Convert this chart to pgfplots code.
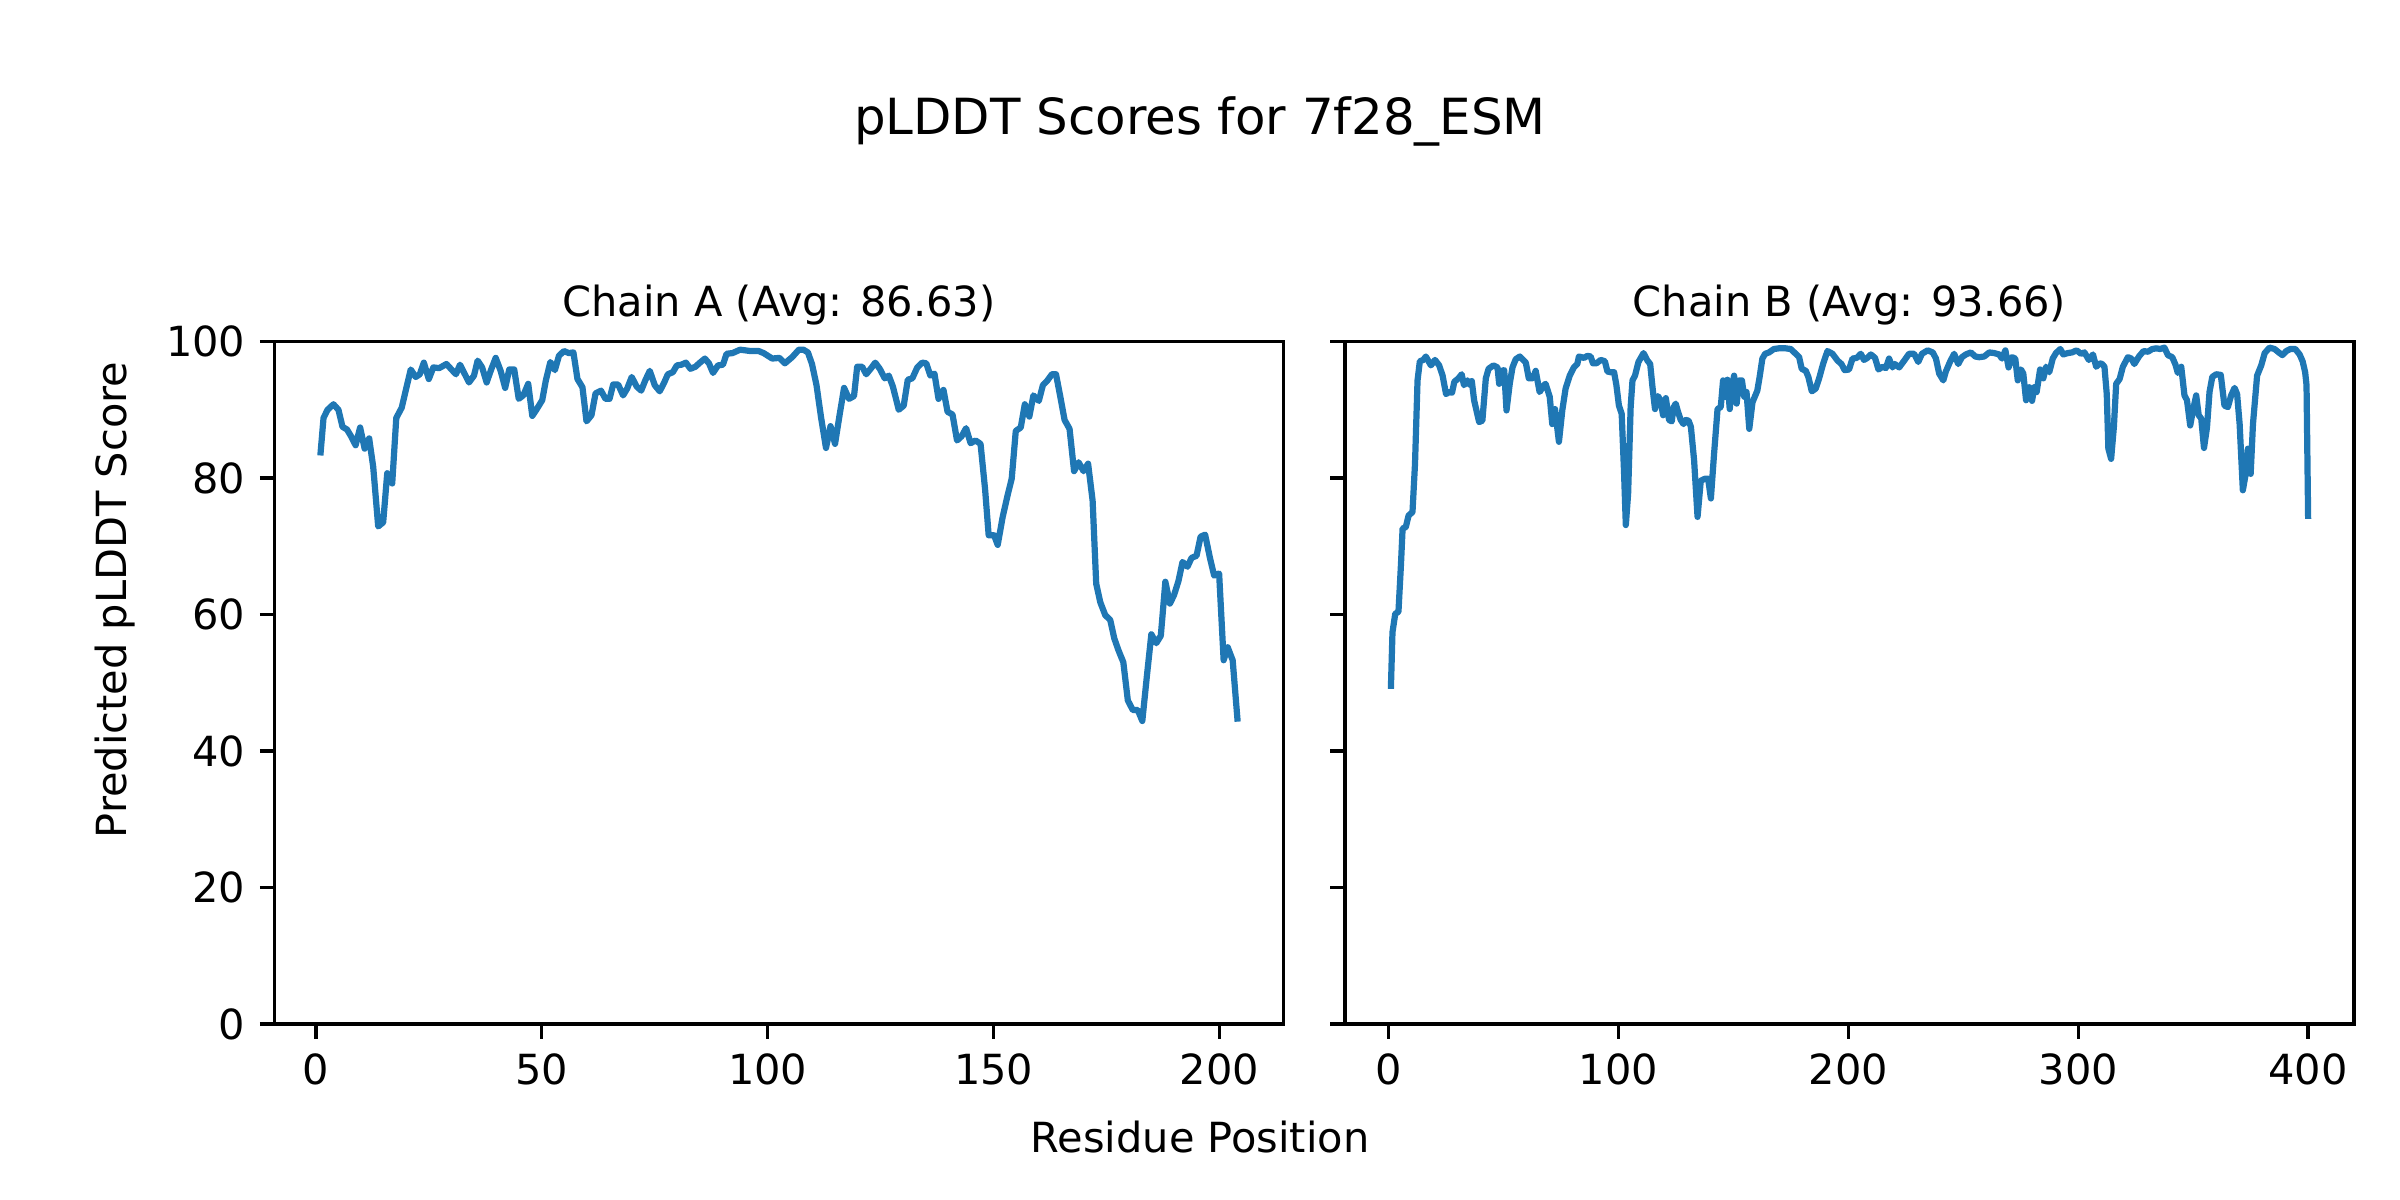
\documentclass[border=0pt]{standalone}
\usepackage{fontspec}
\setmainfont{DejaVu Sans}
\usepackage{pgfplots}
\pgfplotsset{compat=1.18}
\definecolor{mplblue}{RGB}{31,119,180}
\pgfplotsset{
  myaxis/.style={
    scale only axis,
    width=242.16bp, height=163.8bp,
    anchor=south west,
    ymin=0, ymax=100,
    ytick={0,20,40,60,80,100},
    tick align=outside,
    tick pos=left,
    major tick length=3.5pt,
    every tick/.style={black, line width=0.8pt},
    axis line style={black, line width=0.8pt},
    tick label style={font=\fontsize{10}{12}\selectfont},
    /pgf/number format/assume math mode=true,
    every axis title/.style={font=\fontsize{10}{12}\selectfont, at={(0.5,1)}, anchor=base, yshift=6pt},
  },
  myline/.style={color=mplblue, line width=1.5pt, line join=round, mark=none},
}
\begin{document}
\begin{tikzpicture}
\path[use as bounding box] (0,0) rectangle (576bp,288bp);
\node[anchor=base, font=\fontsize{12}{14}\selectfont] at (288bp,255.6bp) {pLDDT Scores for 7f28\_ESM};
\node[anchor=base, font=\fontsize{10}{12}\selectfont] at (288bp,11.5bp) {Residue Position};
\node[anchor=base, rotate=90, font=\fontsize{10}{12}\selectfont] at (30.4bp,144bp) {Predicted pLDDT Score};

\begin{axis}[myaxis, at={(65.88bp,42.24bp)},
  xmin=-9.15, xmax=214.15, xtick={0,50,100,150,200},
  title={Chain A (Avg: 86.63)}]
\addplot[myline] coordinates {
(1,83.3) (1.7,88.8) (2.6,90.0) (3.9,90.8) (5.0,90.0) (5.9,87.5) (6.9,87.1) (7.8,86.1) (8.8,84.8) (9.8,87.4)
(10.8,84.3) (11.8,85.8) (12.7,81.6) (13.8,72.9) (14.9,73.5) (15.8,80.7) (16.9,79.2) (17.8,88.8) (19.0,90.3) (20.1,93.4)
(21.0,95.9) (22.1,94.8) (23.0,95.2) (23.9,96.9) (25.0,94.5) (26.0,96.2) (27.3,96.1) (28.9,96.7) (31.0,95.2) (31.9,96.6)
(33.9,94.0) (35.0,95.0) (35.8,97.2) (36.8,96.2) (37.8,94.0) (38.8,95.9) (39.8,97.6) (40.9,95.7) (41.9,93.2) (42.8,95.9)
(43.9,95.9) (44.9,91.6) (45.9,92.1) (47.0,93.8) (47.9,89.1) (48.9,90.1) (50.1,91.4) (50.9,94.3) (51.9,97.0) (52.9,95.8)
(53.8,97.9) (54.9,98.6) (56.0,98.3) (57.0,98.4) (57.9,94.5) (59.0,93.3) (59.9,88.3) (61.0,89.2) (61.9,92.4) (63.1,92.8)
(64.1,91.6) (65.0,91.6) (65.8,93.7) (66.9,93.7) (68.0,92.1) (68.9,93.1) (69.9,94.8) (71.0,93.4) (72.0,92.8) (72.9,94.3)
(73.9,95.7) (75.0,93.6) (76.1,92.7) (77.1,94.0) (77.9,95.2) (79.0,95.5) (79.9,96.5) (80.9,96.6) (81.9,96.9) (82.9,96.0)
(84.0,96.3) (85.0,96.9) (86.1,97.5) (87.0,96.8) (87.9,95.4) (89.0,96.5) (90.1,96.6) (90.9,98.2) (92.2,98.3) (93.9,98.8)
(96.2,98.6) (98.0,98.6) (99.1,98.3) (101.0,97.5) (102.6,97.6) (103.8,96.8) (105.4,97.7) (106.9,98.8) (107.9,98.8) (108.9,98.4)
(109.8,96.7) (110.8,93.6) (111.8,88.9) (112.9,84.4) (113.9,87.6) (114.9,85.0) (115.9,89.2) (116.9,93.2) (118.0,91.6) (119.1,92.0)
(119.8,96.3) (120.9,96.3) (121.8,95.2) (122.9,96.1) (123.8,96.9) (124.8,96.0) (125.9,94.6) (126.8,95.0) (127.7,93.4) (129.0,90.0)
(130.1,90.6) (131.0,94.4) (132.0,94.6) (133.1,96.2) (134.2,96.9) (135.1,96.8) (136.0,95.0) (136.9,95.3) (137.8,91.6) (138.9,92.9)
(139.8,89.7) (140.9,89.3) (141.9,85.5) (142.9,86.1) (143.9,87.3) (144.9,85.1) (146.0,85.5) (147.1,85.0) (148.1,78.4) (148.9,71.6)
(150.1,71.6) (150.9,70.2) (152.0,74.3) (153.1,77.5) (154.0,79.9) (154.9,86.9) (156.0,87.4) (156.9,90.8) (157.9,89.0) (158.8,92.1)
(160.0,91.3) (160.9,93.6) (161.8,94.2) (162.9,95.2) (163.8,95.2) (164.7,92.1) (165.7,88.5) (166.8,87.2) (167.8,81.0) (168.8,82.3)
(169.9,81.0) (170.9,82.1) (171.9,76.7) (172.7,64.5) (173.6,61.8) (174.7,59.9) (175.8,59.2) (176.7,56.5) (177.6,54.8) (178.7,53.0)
(179.7,47.4) (180.8,46.0) (181.9,46.0) (182.9,44.4) (183.9,50.9) (184.9,57.1) (186.0,55.8) (187.0,56.9) (188.0,64.8) (189.0,61.6)
(189.9,62.8) (190.9,64.9) (191.8,67.7) (192.9,67.0) (193.8,68.3) (194.9,68.6) (195.8,71.4) (196.8,71.7) (197.9,68.2) (198.8,65.7)
(199.9,66.0) (200.9,53.3) (201.8,55.2) (202.9,53.3) (204.0,44.3)
};
\end{axis}

\begin{axis}[myaxis, at={(322.8bp,42.24bp)},
  xmin=-18.95, xmax=419.95, xtick={0,100,200,300,400},
  yticklabels={},
  title={Chain B (Avg: 93.66)}]
\addplot[myline] coordinates {
(1.0,49.1) (1.7,57.4) (2.9,60.1) (4.3,60.4) (5.4,67.4) (6.1,72.6) (7.5,72.8) (8.7,74.5) (10.4,75.0) (11.5,82.1)
(12.6,94.3) (13.6,97.1) (15.1,97.3) (16.2,97.8) (18.4,96.5) (20.2,97.3) (22.0,96.5) (23.5,95.0) (25.0,92.3) (26.4,92.6)
(27.6,92.5) (28.6,94.1) (30.4,94.6) (31.8,95.2) (32.8,93.6) (34.3,94.3) (35.5,93.6) (36.2,94.2) (37.2,91.4) (38.7,89.2)
(39.4,88.2) (40.8,88.4) (42.3,94.6) (43.5,96.0) (45.6,96.5) (47.4,96.2) (48.1,93.8) (49.3,95.7) (50.3,95.8) (51.3,89.9)
(52.7,93.8) (53.9,96.2) (55.3,97.4) (57.1,97.8) (59.7,96.9) (61.0,94.6) (62.7,94.6) (64.0,95.7) (65.7,92.6) (67.6,93.6)
(68.3,93.8) (70.1,91.9) (71.2,87.9) (72.4,90.1) (74.1,85.3) (75.6,90.0) (77.0,93.1) (78.8,95.0) (80.6,96.2) (82.1,96.7)
(82.8,97.8) (85.0,97.6) (86.5,97.9) (87.9,97.8) (88.9,96.8) (90.4,96.8) (92.3,97.3) (94.1,97.1) (95.2,95.6) (96.6,95.5)
(98.1,95.5) (99.1,93.6) (100.2,90.6) (101.4,89.4) (102.4,81.1) (103.2,73.1) (104.2,77.7) (105.3,90.4) (106.1,94.3) (107.2,95.0)
(108.7,97.0) (110.9,98.3) (112.6,97.2) (113.8,96.7) (114.8,93.3) (115.9,90.1) (117.2,92.0) (118.4,91.3) (119.4,89.2) (120.6,91.7)
(122.0,88.5) (123.2,88.3) (123.9,90.3) (124.9,90.9) (125.9,89.7) (127.1,88.5) (128.3,87.9) (129.3,88.5) (130.5,88.4) (131.5,87.5)
(132.9,82.6) (134.4,74.3) (135.8,79.6) (137.7,79.9) (139.0,79.9) (140.2,77.0) (141.6,83.6) (143.1,90.1) (144.5,90.4) (145.5,94.3)
(146.4,91.9) (147.4,94.4) (148.4,90.1) (149.3,93.3) (150.3,95.0) (151.4,90.9) (152.5,94.3) (153.7,94.3) (154.7,91.9) (155.7,92.6)
(156.9,87.2) (158.3,91.1) (160.4,92.8) (161.4,94.8) (162.6,97.5) (163.8,98.2) (165.5,98.4) (167.6,98.9) (169.8,99.0) (172.7,99.0)
(174.9,98.9) (177.1,98.2) (178.6,97.7) (179.7,96.0) (181.5,95.7) (182.6,94.8) (184.1,92.7) (185.8,93.1) (187.2,94.5) (189.0,96.7)
(190.9,98.6) (193.1,98.2) (195.3,97.2) (197.0,96.7) (198.4,95.8) (200.3,95.9) (201.8,97.5) (203.7,97.6) (205.4,98.2) (206.8,97.3)
(208.3,97.6) (209.8,98.1) (211.6,97.6) (213.1,95.9) (214.9,96.3) (216.3,96.1) (217.7,97.5) (219.2,96.2) (220.2,96.7) (222.1,96.2)
(224.3,97.2) (226.4,98.2) (228.6,98.2) (230.4,97.0) (232.0,98.2) (234.5,98.7) (236.7,98.4) (238.1,97.5) (239.5,95.3) (241.3,94.3)
(242.4,95.6) (244.2,97.0) (246.0,98.2) (247.8,96.7) (249.4,97.7) (251.1,98.1) (253.3,98.4) (255.2,97.8) (256.9,97.7) (259.1,97.8)
(261.3,98.4) (263.5,98.3) (265.6,98.1) (266.8,97.5) (268.3,98.7) (269.7,96.2) (271.2,97.7) (272.6,97.5) (273.7,94.3) (275.1,95.9)
(276.1,95.3) (277.3,91.4) (278.7,93.3) (279.9,91.3) (280.9,93.3) (281.9,92.6) (283.4,95.9) (284.8,94.6) (286.0,96.3) (287.4,95.5)
(288.9,97.5) (290.3,98.3) (292.2,98.9) (293.5,98.1) (295.4,98.3) (297.3,98.4) (299.3,98.7) (301.2,98.2) (302.7,98.4) (304.6,97.3)
(306.4,98.1) (307.8,96.3) (309.3,96.8) (310.4,96.7) (311.4,96.3) (312.4,92.3) (313.1,84.3) (314.3,82.8) (315.5,87.5) (316.5,93.8)
(318.0,94.5) (319.4,96.3) (321.6,97.7) (323.1,97.5) (324.4,96.7) (326.4,97.8) (328.4,98.6) (330.3,98.5) (332.2,98.9) (334.0,99.0)
(335.6,98.9) (337.5,99.1) (339.0,98.0) (340.9,97.7) (342.3,96.6) (343.3,95.4) (344.8,96.3) (346.2,92.1) (347.3,91.4) (348.7,87.7)
(349.9,89.9) (351.3,92.1) (352.4,89.2) (353.5,88.7) (354.7,84.4) (356.0,87.4) (357.1,92.6) (358.3,94.8) (360.0,95.2) (362.0,95.1)
(363.6,90.6) (365.1,90.4) (366.5,92.1) (368.0,93.2) (369.1,92.3) (370.2,87.9) (371.6,78.2) (373.1,81.1) (373.8,84.3) (375.0,80.6)
(376.0,87.9) (377.8,95.0) (379.6,96.5) (381.1,98.3) (383.2,99.1) (385.4,98.9) (387.2,98.4) (388.8,98.0) (390.5,98.6) (392.3,98.9)
(394.4,98.9) (396.3,98.1) (397.6,97.1) (398.7,95.5) (399.3,93.6) (400.0,74.0)
};
\end{axis}
\end{tikzpicture}
\end{document}
